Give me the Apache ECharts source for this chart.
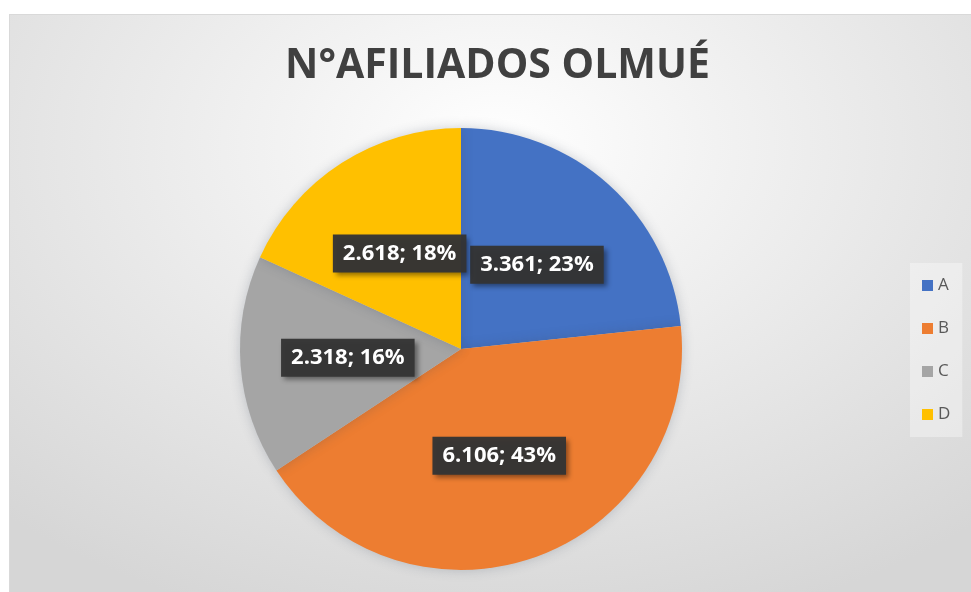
<!DOCTYPE html>
<html lang="es">
<head>
<meta charset="utf-8" />
<script src="https://cdn.jsdelivr.net/npm/echarts@6/dist/echarts.min.js"></script>
<style>
	html, body { margin: 0; padding: 0; background: #ffffff; overflow: hidden; }
	#main {
		position: absolute; left: 9px; top: 14px;
		width: 975px; height: 590px;
		border: 1px solid #d9d9d9;
		background: radial-gradient(ellipse 75% 85% at 50% 22%, #ffffff 0%, #f2f2f2 30%, #d6d6d6 100%);
	}
</style>
</head>
<body>
<div id="main"></div>
<script>
	var titleText = 'N°AFILIADOS OLMUÉ'
	var categories = ['A', 'B', 'C', 'D']
	var values = [3361, 6106, 2318, 2618]
	var colors = ['#4472C4', '#ED7D31', '#A5A5A5', '#FFC000']

	// 3361 -> "3.361"
	function fmt(v) {
		return String(v).replace(/\B(?=(\d{3})+(?!\d))/g, '.')
	}

	var chart = echarts.init(document.getElementById('main'))
	var option = {
		backgroundColor: 'transparent',
		title: {
			text: titleText,
			left: 'center',
			top: 26,
			textStyle: { fontFamily: 'Open Sans', fontWeight: 'bold', fontSize: 41, color: '#404040' }
		},
		legend: {
			orient: 'vertical',
			left: 900,
			top: 248,
			padding: [14, 12, 14, 12],
			backgroundColor: 'rgba(255,255,255,0.35)',
			itemWidth: 11,
			itemHeight: 11,
			itemGap: 26,
			icon: 'rect',
			data: categories,
			textStyle: { fontFamily: 'Open Sans', fontSize: 17, color: '#595959' }
		},
		series: [{
			type: 'pie',
			center: [451, 334],
			radius: 221,
			startAngle: 90,
			clockwise: true,
			percentPrecision: 0,
			silent: true,
			itemStyle: { shadowBlur: 12, shadowColor: 'rgba(60,70,90,0.25)' },
			label: {
				position: 'inside',
				formatter: function (p) { return fmt(p.value) + '; ' + p.percent + '%' },
				fontFamily: 'Open Sans',
				fontWeight: 'bold',
				fontSize: 22,
				color: '#ffffff',
				backgroundColor: 'rgba(52,52,52,0.96)',
				padding: [9, 10, 7, 10],
				shadowBlur: 5,
				shadowOffsetX: 3,
				shadowOffsetY: 3,
				shadowColor: 'rgba(0,0,0,0.45)'
			},
			labelLine: { show: false },
			data: categories.map(function (c, i) {
				return { name: c, value: values[i], itemStyle: { color: colors[i] } }
			})
		}]
	}
	chart.setOption(option)
</script>
</body>
</html>
